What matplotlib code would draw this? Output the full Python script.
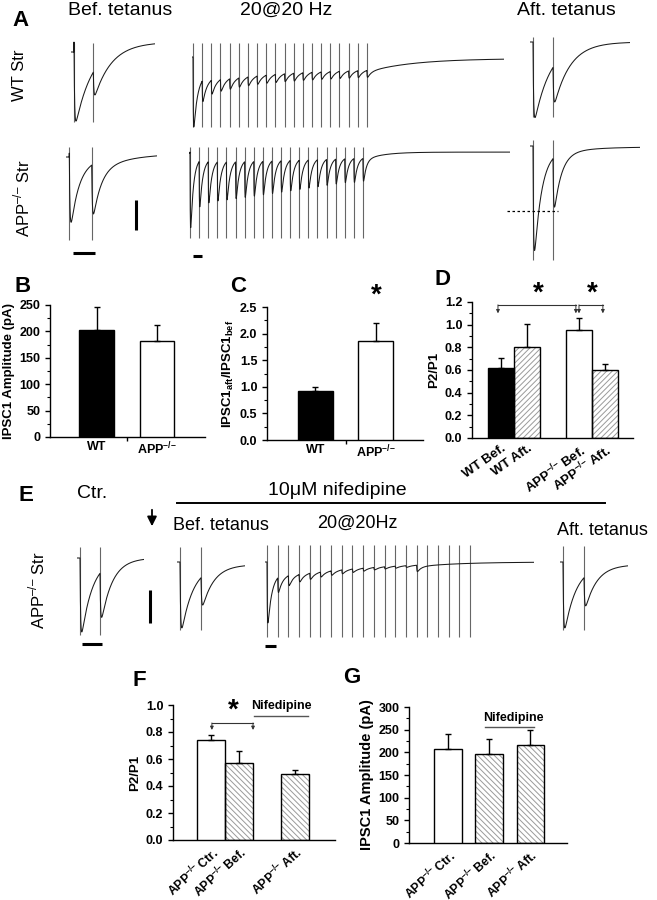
import numpy as np
import matplotlib
matplotlib.use("Agg")
import matplotlib.pyplot as plt
from matplotlib.lines import Line2D
from matplotlib.patches import FancyArrowPatch
from matplotlib.ticker import MultipleLocator

plt.rcParams["font.family"] = ["Liberation Sans", "DejaVu Sans"]
plt.rcParams["mathtext.fontset"] = "custom"
plt.rcParams["mathtext.rm"] = "Liberation Sans"
plt.rcParams["mathtext.bf"] = "Liberation Sans:bold"
plt.rcParams["hatch.linewidth"] = 0.7

KO = r"APP$^{\mathbf{–/–}}$"      # APP-/- (bold, for bar labels)
KO_RM = r"APP$^{–/–}$"            # APP-/- (regular, for trace rows)

# ------------------------------------------------------------------
# bar chart data (mean, SEM)
# ------------------------------------------------------------------
b_labels = ["WT", KO]
b_mean = [202, 182]
b_sem = [44, 30]

c_labels = ["WT", KO]
c_mean = [0.93, 1.86]
c_sem = [0.07, 0.33]

d_labels = ["WT Bef.", "WT Aft.", KO + " Bef.", KO + " Aft."]
d_mean = [0.62, 0.80, 0.95, 0.60]
d_sem = [0.09, 0.21, 0.11, 0.05]

f_labels = [KO + " Ctr.", KO + " Bef.", KO + " Aft."]
f_mean = [0.74, 0.57, 0.49]
f_sem = [0.04, 0.09, 0.03]

g_labels = f_labels
g_mean = [208, 196, 216]
g_sem = [32, 34, 33]

# ------------------------------------------------------------------
# example traces: stimulus times (ms) and IPSC amplitudes (pA)
# ------------------------------------------------------------------
pp_stims = [0, 50]                      # paired pulse, 50 ms apart
train_stims = list(np.arange(20) * 50)  # 20 pulses @ 20 Hz

wt_bef_amp = [305, 99]
wt_aft_amp = [296, 146]
app_bef_amp = [301, 218]
app_aft_amp = [459, 222]
wt_train_amp = [284, 90, 60, 50, 45, 40, 38, 36, 35, 35,
                34, 34, 33, 33, 32, 32, 31, 31, 30, 30]
app_train_amp = [344, 210, 190, 180, 175, 170, 165, 160, 155, 150,
                 145, 140, 135, 130, 125, 120, 115, 110, 110, 105]
e_ctr_amp = [277, 173]
e_bef_amp = [237, 109]
e_aft_amp = [237, 112]
e_train_amp = [237, 60, 40, 30, 25, 20, 18, 16, 14, 12,
               10, 9, 8, 7, 25, 0, 0, 0, 0, 0]

W, H = 657, 900
fig = plt.figure(figsize=(W / 100, H / 100), dpi=100)


def rect_px(l, t, r, b):
    return [l / W, 1 - b / H, (r - l) / W, (b - t) / H]


def text_px(x, y, s, **kw):
    return fig.text(x / W, 1 - y / H, s, **kw)


def line_px(xs, ys, **kw):
    fig.add_artist(Line2D([x / W for x in xs], [1 - y / H for y in ys], **kw))


def ipsc(t, stims, amps, tau_f, tau_s, w_s, rest, tau_r=1.5):
    i = np.full_like(t, float(rest))
    for ts, a in zip(stims, amps):
        d = t - ts
        m = d > 0
        d = d[m]
        i[m] -= a * (1 - np.exp(-d / tau_r)) * ((1 - w_s) * np.exp(-d / tau_f) + w_s * np.exp(-d / tau_s))
    i[t < 0] = 0.0
    return i


def draw_trace(x0, y0, sx, sy, stims, amps, taus, rest, t_end, art, t_pre=8):
    # x0,y0 = pixel of (first stimulus, baseline); sx px/ms, sy px/pA
    t = np.arange(-t_pre, t_end, 0.2)
    i = ipsc(t, stims, amps, taus[0], taus[1], taus[2], rest)
    lo, hi = min(i.min(), art[1]) - 5, max(i.max(), art[0]) + 5
    ax = fig.add_axes(rect_px(x0 - t_pre * sx, y0 - hi * sy, x0 + t_end * sx, y0 - lo * sy))
    ax.set_xlim(-t_pre, t_end)
    ax.set_ylim(lo, hi)
    ax.axis("off")
    ax.vlines(stims, art[1], art[0], color="#666666", lw=0.8)
    ax.plot(t, i, color="#1a1a1a", lw=0.75)
    return ax, i


# ---------------------------- panel A -----------------------------
text_px(12, 10, "A", fontsize=16, weight="bold", va="top")
text_px(68, 2, "Bef. tetanus", fontsize=14, va="top")
text_px(240, 2, "20@20 Hz", fontsize=14, va="top")
text_px(517, 2, "Aft. tetanus", fontsize=14, va="top")
text_px(20, 75, "WT Str", fontsize=12, rotation=90, ha="center", va="center")
text_px(22, 198, KO_RM + " Str", fontsize=12, rotation=90, ha="center", va="center")

draw_trace(74, 52, 0.386, 0.3, pp_stims, wt_bef_amp, (45, 100, 0), 33, 210, (30, -233))
draw_trace(193, 57, 0.183, 0.3, train_stims, wt_train_amp, (20, 250, 0.25), -5, 1700, (47, -233))
draw_trace(533, 42, 0.4, 0.3, pp_stims, wt_aft_amp, (40, 100, 0), 0, 242, (17, -250))
_, app_bef = draw_trace(69.3, 157, 0.448, 0.3, pp_stims, app_bef_amp, (18, 80, 0.15), 13, 196, (33, -277))
draw_trace(190, 153, 0.182, 0.3, train_stims, app_train_amp, (15, 100, 0.1), 3, 1760, (20, -283))
ax_aa, _ = draw_trace(533, 146, 0.4, 0.3, pp_stims, app_aft_amp, (18, 80, 0.05), -3, 268, (20, -380))
ax_aa.plot([-65, 62], [app_bef.min()] * 2, color="k", lw=0.9, ls=(0, (2, 2)), clip_on=False)

# scale bars: 100 pA, 50 ms
line_px([136, 136], [200, 200 + 100 * 0.3], color="k", lw=2.2, solid_capstyle="butt")
line_px([73, 73 + 50 * 0.448], [253, 253], color="k", lw=2.2, solid_capstyle="butt")
line_px([193, 193 + 50 * 0.183], [256, 256], color="k", lw=2.2, solid_capstyle="butt")


# ------------------------- bar panels -----------------------------
def bar_panel(box, pos, means, sems, kinds, ymax, major, xlim, width, labels,
              ylabel, rot=0, lab_size=9.5, tick_size=9, xtick_size=None, hatch="//////"):
    ax = fig.add_axes(rect_px(*box))
    for x, m, k in zip(pos, means, kinds):
        if k == "hatch":
            ax.bar(x, m, width, color="white", edgecolor="#9a9a9a", hatch=hatch, lw=0, zorder=2)
            ax.bar(x, m, width, fill=False, edgecolor="k", lw=1.0, zorder=3)
        else:
            ax.bar(x, m, width, color=k, edgecolor="k", lw=1.0, zorder=3)
    ax.errorbar(pos, means, yerr=[np.zeros(len(sems)), sems], fmt="none", ecolor="k",
                elinewidth=1.0, capsize=2.5, capthick=1.0, zorder=4)
    ax.set_ylim(0, ymax)
    ax.set_xlim(*xlim)
    ax.yaxis.set_major_locator(MultipleLocator(major))
    ax.yaxis.set_minor_locator(MultipleLocator(major / 2))
    for s in ["top", "right"]:
        ax.spines[s].set_visible(False)
    for s in ["left", "bottom"]:
        ax.spines[s].set_linewidth(1.0)
    ax.tick_params(direction="out", length=3.5, width=1, labelsize=tick_size)
    ax.tick_params(which="minor", direction="out", length=2, width=0.8)
    ax.tick_params(axis="x", length=0, pad=3)
    for lab in ax.get_yticklabels():
        lab.set_fontweight("bold")
    ax.set_xticks(pos)
    xs = xtick_size or tick_size
    if rot:
        ax.set_xticklabels(labels, rotation=rot, ha="right", rotation_mode="anchor",
                           fontsize=xs, fontweight="bold")
    else:
        ax.set_xticklabels(labels, fontsize=xs, fontweight="bold")
    ax.set_ylabel(ylabel, fontsize=lab_size, fontweight="bold", labelpad=3)
    return ax


def bracket(ax, xa, xb, y_top, y_tip):
    ax.plot([xa, xb], [y_top, y_top], color="#333", lw=0.8, clip_on=False)
    for xx in (xa, xb):
        ax.annotate("", xy=(xx, y_tip), xytext=(xx, y_top), annotation_clip=False,
                    arrowprops=dict(arrowstyle="-|>", color="#333", lw=0.7,
                                    mutation_scale=5, shrinkA=0, shrinkB=0))


text_px(15, 276, "B", fontsize=16, weight="bold", va="top")
text_px(230, 276, "C", fontsize=16, weight="bold", va="top")
text_px(435, 269, "D", fontsize=16, weight="bold", va="top")

ax_b = bar_panel((50, 305, 205, 437), [0, 1], b_mean, b_sem, ["black", "white"], 250, 50,
                 (-0.78, 1.8), 0.58, b_labels, "IPSC1 Amplitude (pA)")
ax_b.set_xticks([0.5], minor=True)
ax_b.tick_params(axis="x", which="minor", length=3, width=1)

ax_c = bar_panel((267, 307, 423, 440), [0, 1], c_mean, c_sem, ["black", "white"], 2.5, 0.5,
                 (-0.8, 1.78), 0.58, c_labels,
                 r"IPSC1$_{\mathbf{aft}}$/IPSC1$_{\mathbf{bef}}$")
ax_c.set_xticks([0.5], minor=True)
ax_c.tick_params(axis="x", which="minor", length=3, width=1)
ax_c.text(1, 2.72, "*", fontsize=20, weight="bold", ha="center", va="center", clip_on=False)

d_pos = [0, 1, 3, 4]
ax_d = bar_panel((472, 302, 633, 438), d_pos, d_mean, d_sem, ["black", "hatch", "white", "hatch"],
                 1.2, 0.2, (-1.12, 5.08), 1.0, d_labels, "P2/P1", rot=35, xtick_size=9.5)
for (xa, xb) in [(-0.12, 2.88), (3.0, 3.92)]:
    bracket(ax_d, xa, xb, 1.175, 1.10)
    ax_d.text((xa + xb) / 2 + 0.05, 1.275, "*", fontsize=20, weight="bold", ha="center", va="center",
              clip_on=False)

# ---------------------------- panel E -----------------------------
text_px(18, 485, "E", fontsize=16, weight="bold", va="top")
text_px(77, 485, "Ctr.", fontsize=14, va="top")
text_px(337, 482, "10μM nifedipine", fontsize=14, va="top", ha="center")
line_px([177, 605], [503, 503], color="k", lw=1.4)
fig.add_artist(FancyArrowPatch((152 / W, 1 - 507 / H), (152 / W, 1 - 529 / H),
                               transform=fig.transFigure, arrowstyle="-|>", color="k",
                               lw=1.3, mutation_scale=14))
text_px(173, 517, "Bef. tetanus", fontsize=13, va="top")
text_px(317, 515, "20@20Hz", fontsize=13, va="top")
text_px(557, 522, "Aft. tetanus", fontsize=13, va="top")
text_px(37, 590, KO_RM + " Str", fontsize=12, rotation=90, ha="center", va="center")

draw_trace(80, 558, 0.4, 0.33, pp_stims, e_ctr_amp, (28, 100, 0), 0, 160, (33, -233))
draw_trace(180, 562, 0.42, 0.33, pp_stims, e_bef_amp, (28, 100, 0), -8, 155, (45, -206))
draw_trace(267, 562, 0.2137, 0.33, train_stims, e_train_amp, (18, 200, 0.2), 0, 1250, (52, -227))
draw_trace(563, 562, 0.42, 0.33, pp_stims, e_aft_amp, (28, 100, 0), -8, 155, (50, -206))

line_px([150, 150], [590, 590 + 100 * 0.33], color="k", lw=2.2, solid_capstyle="butt")
line_px([82, 82 + 50 * 0.4], [644, 644], color="k", lw=2.2, solid_capstyle="butt")
line_px([265, 265 + 50 * 0.2137], [646, 646], color="k", lw=2.2, solid_capstyle="butt")

# ------------------------- panels F, G ----------------------------
text_px(132, 670, "F", fontsize=16, weight="bold", va="top")
text_px(343, 667, "G", fontsize=16, weight="bold", va="top")

f_pos = [0, 1, 3]
ax_f = bar_panel((173, 705, 335, 840), f_pos, f_mean, f_sem, ["white", "hatch", "hatch"],
                 1.0, 0.2, (-1.36, 4.43), 1.0, f_labels, "P2/P1", rot=42, xtick_size=8.8,
                 hatch="\\\\\\\\\\\\")
bracket(ax_f, 0.03, 1.5, 0.867, 0.815)
ax_f.text(0.79, 0.955, "*", fontsize=20, weight="bold", ha="center", va="center", clip_on=False)
ax_f.text(2.5, 0.95, "Nifedipine", fontsize=9, weight="bold", ha="center", va="bottom", clip_on=False)
ax_f.plot([1.55, 3.45], [0.918, 0.918], color="#555", lw=1.0, clip_on=False)

g_pos = [0, 1, 2]
ax_g = bar_panel((409, 707, 567, 843), g_pos, g_mean, g_sem, ["white", "hatch", "hatch"],
                 300, 50, (-0.95, 2.9), 0.66, g_labels, "IPSC1 Amplitude (pA)", rot=42,
                 lab_size=10.5, xtick_size=8.8, hatch="\\\\\\\\\\\\")
ax_g.text(1.59, 263, "Nifedipine", fontsize=9, weight="bold", ha="center", va="bottom", clip_on=False)
ax_g.plot([0.9, 2.1], [256, 256], color="#555", lw=1.0, clip_on=False)

fig.savefig("out.png", dpi=100)
